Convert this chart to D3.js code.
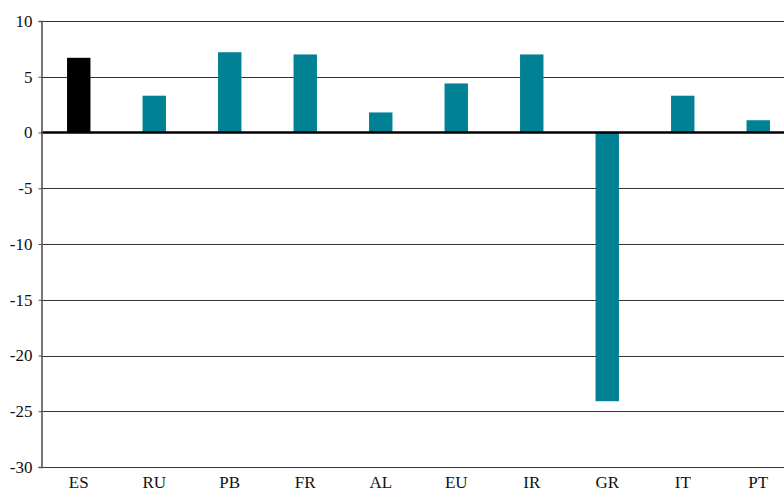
<!DOCTYPE html>
<html>
<meta charset="utf-8" />
<script src="https://cdn.jsdelivr.net/npm/d3@7"></script>
<style>
  html, body { margin: 0; padding: 0; background: #fff; }
  svg { display: block; }
  .tick text { font-family: 'Liberation Serif', serif; font-size: 17px; fill: #111; }
  .grid line { stroke: #333; stroke-width: 1.2px; }
</style>
<body>
<div id="chart"></div>
<script>
  var categories = ['ES', 'RU', 'PB', 'FR', 'AL', 'EU', 'IR', 'GR', 'IT', 'PT'];
  var values = [6.7, 3.3, 7.2, 7.0, 1.8, 4.4, 7.0, -24.1, 3.3, 1.1];
  var yTicks = [10, 5, 0, -5, -10, -15, -20, -25, -30];
  var highlight = 'ES';

  var W = 784, H = 492;
  var margin = { top: 21, right: -12, bottom: 25, left: 41 };

  var svg = d3.select('#chart').append('svg')
    .attr('width', W)
    .attr('height', H);

  var x = d3.scaleBand()
    .domain(categories)
    .range([margin.left, W - margin.right])
    .paddingInner(0.69)
    .paddingOuter(0.345);

  var y = d3.scaleLinear()
    .domain([-30, 10])
    .range([H - margin.bottom, margin.top]);

  // gridlines
  svg.append('g')
    .attr('class', 'grid')
    .selectAll('line')
    .data(yTicks.filter(function (d) { return d !== 0; }))
    .enter()
    .append('line')
    .attr('x1', margin.left)
    .attr('x2', W)
    .attr('y1', function (d) { return Math.round(y(d)) + 0.5; })
    .attr('y2', function (d) { return Math.round(y(d)) + 0.5; });

  // bars
  svg.append('g')
    .selectAll('rect')
    .data(categories)
    .enter()
    .append('rect')
    .attr('x', function (d) { return x(d); })
    .attr('width', x.bandwidth())
    .attr('y', function (d, i) { return y(Math.max(0, values[i])); })
    .attr('height', function (d, i) { return Math.abs(y(values[i]) - y(0)); })
    .attr('fill', function (d) { return d === highlight ? '#000' : '#008194'; });

  // zero line
  svg.append('line')
    .attr('x1', margin.left)
    .attr('x2', W)
    .attr('y1', y(0))
    .attr('y2', y(0))
    .attr('stroke', '#000')
    .attr('stroke-width', 2.5);

  // y axis (plain hyphen for negatives, like the original)
  var yAxis = svg.append('g')
    .attr('transform', 'translate(' + (margin.left + 0.5) + ',0)')
    .call(d3.axisLeft(y).tickValues(yTicks).tickSize(3).tickPadding(6).tickFormat(function (d) { return String(d); }));
  yAxis.select('.domain').attr('stroke', '#555').attr('stroke-width', 1.6);
  yAxis.selectAll('.tick line').attr('stroke', '#555');

  // x axis labels
  var xAxis = svg.append('g')
    .attr('transform', 'translate(0,' + (H - margin.bottom) + ')')
    .call(d3.axisBottom(x).tickSize(0).tickPadding(9));
  xAxis.select('.domain').remove();
</script>
</body>
</html>
